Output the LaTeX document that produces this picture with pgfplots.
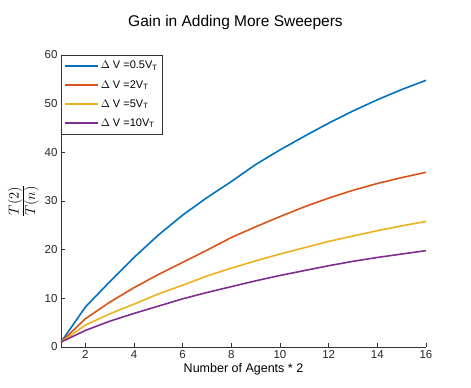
\documentclass[border=0pt]{standalone}
\usepackage{pgfplots}
\pgfplotsset{compat=1.18}
\usepackage{fontspec}
\setmainfont{Liberation Sans}
\definecolor{c1}{rgb}{0,0.447,0.741}
\definecolor{c2}{rgb}{0.85,0.325,0.098}
\definecolor{c3}{rgb}{0.929,0.694,0.125}
\definecolor{c4}{rgb}{0.494,0.184,0.556}
\pgfplotsset{legend image code/.code={\draw[#1, line width=1.6pt] (0pt,0pt) -- (33pt,0pt);}}
\begin{document}
\begin{tikzpicture}
\begin{axis}[
  scale only axis, width=365pt, height=292pt,
  xmin=1, xmax=16, ymin=0, ymax=60,
  xtick={2,4,...,16}, ytick={0,10,...,60},
  axis lines*=left, axis line style={draw=black!80, line width=0.6pt},
  tick style={draw=black!80, line width=0.6pt},
  tick align=inside, major tick length=4pt,
  ticklabel style={font=\fontsize{11.5}{13}\selectfont, text=black!85},
  /pgf/number format/assume math mode=true,
  title={\fontsize{15.5}{18}\selectfont Gain in Adding More Sweepers},
  title style={yshift=16pt, xshift=-8pt},
  xlabel={\fontsize{12.5}{14}\selectfont Number of Agents * 2},
  xlabel style={yshift=2pt},
  ylabel={\fontsize{20}{24}\selectfont $\frac{T(2)}{T(n)}$},
  ylabel style={yshift=-1pt},
  legend style={at={(0,1)}, anchor=north west, draw=black!80,
    font=\fontsize{11}{13}\selectfont, row sep=6pt, inner xsep=3pt, inner ysep=4pt},
  legend cell align=left,
  every axis plot/.append style={line width=1.6pt},
]
\addplot[c1] coordinates {(1,1)(2,8.2)(3,13.4)(4,18.4)(5,23)(6,27.1)(7,30.7)(8,34)(9,37.5)(10,40.5)(11,43.3)(12,46)(13,48.5)(14,50.8)(15,52.9)(16,54.8)};
\addplot[c2] coordinates {(1,1)(2,5.8)(3,9.2)(4,12.2)(5,14.9)(6,17.4)(7,19.9)(8,22.5)(9,24.7)(10,26.8)(11,28.8)(12,30.6)(13,32.2)(14,33.6)(15,34.8)(16,35.9)};
\addplot[c3] coordinates {(1,1)(2,4.5)(3,6.8)(4,8.8)(5,10.9)(6,12.7)(7,14.6)(8,16.2)(9,17.7)(10,19.1)(11,20.4)(12,21.7)(13,22.8)(14,23.9)(15,24.9)(16,25.8)};
\addplot[c4] coordinates {(1,1)(2,3.4)(3,5.3)(4,6.9)(5,8.4)(6,9.9)(7,11.2)(8,12.4)(9,13.6)(10,14.7)(11,15.7)(12,16.7)(13,17.6)(14,18.4)(15,19.1)(16,19.8)};
\legend{$\Delta$ V =0.5V\textsubscript{T}, $\Delta$ V =2V\textsubscript{T}, $\Delta$ V =5V\textsubscript{T}, $\Delta$ V =10V\textsubscript{T}}
\end{axis}
\path[use as bounding box] (current axis.south west) ++(-61pt,-41pt) rectangle ++(471pt,388pt);
\end{tikzpicture}
\end{document}
